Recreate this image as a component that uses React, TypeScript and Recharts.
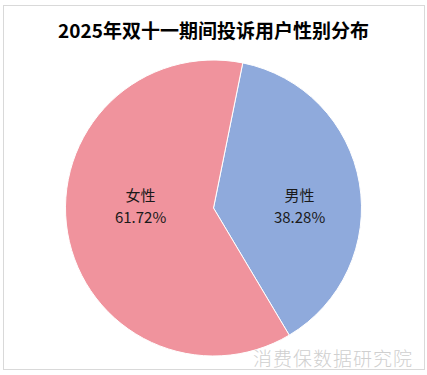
import { Cell, Pie, PieChart } from "recharts";

const genders = ["男性", "女性"];
const shares = [38.28, 61.72];
const colors = ["#8FAADC", "#F0939D"];

const data = genders.map((name, i) => ({ name, value: shares[i] }));

const RAD = Math.PI / 180;

function renderLabel(props: any) {
  const { cx, cy, midAngle, outerRadius, index, percent } = props;
  const r = outerRadius * (percent > 0.5 ? 0.5 : 0.59);
  const x = cx + r * Math.cos(-midAngle * RAD);
  const y = cy - 14;
  const style = { fontSize: 15, fontFamily: "'Noto Sans CJK SC', sans-serif" };
  return (
    <g>
      <text x={x} y={y} textAnchor="middle" dominantBaseline="central" fill="#1a1a1a" style={style}>
        {data[index].name}
      </text>
      <text x={x} y={y + 22} textAnchor="middle" dominantBaseline="central" fill="#1a1a1a" style={style}>
        {data[index].value.toFixed(2)}%
      </text>
    </g>
  );
}

export default function App() {
  return (
    <div
      style={{
        position: "absolute",
        left: 0,
        top: 0,
        width: 427,
        height: 375,
        background: "#fff",
      }}
    >
      <div
        style={{
          position: "absolute",
          left: 3,
          top: 5,
          width: 420,
          height: 363,
          border: "1px solid #D9D9D9",
        }}
      />
      <div
        style={{
          position: "absolute",
          left: 0,
          top: 16,
          width: 427,
          textAlign: "center",
          fontFamily: "'Noto Sans CJK SC', sans-serif",
          fontWeight: 700,
          fontSize: 19,
          lineHeight: "28px",
          color: "#000",
        }}
      >
        2025年双十一期间投诉用户性别分布
      </div>
      <PieChart
        width={427}
        height={375}
        margin={{ top: 0, right: 0, bottom: 0, left: 0 }}
        style={{ position: "absolute", left: 0, top: 0 }}
      >
        <Pie
          data={data}
          dataKey="value"
          nameKey="name"
          cx={213.5}
          cy={208}
          outerRadius={148}
          startAngle={78.6}
          endAngle={-281.4}
          stroke="#fff"
          strokeWidth={1}
          label={renderLabel}
          labelLine={false}
          isAnimationActive={false}
        >
          {data.map((d, i) => (
            <Cell key={d.name} fill={colors[i]} />
          ))}
        </Pie>
      </PieChart>
      <div
        style={{
          position: "absolute",
          left: 253,
          top: 345,
          fontFamily: "'Noto Sans CJK SC', sans-serif",
          fontWeight: 300,
          fontSize: 19,
          lineHeight: "26px",
          letterSpacing: 1,
          color: "#CFCFCF",
          whiteSpace: "nowrap",
        }}
      >
        消费保数据研究院
      </div>
    </div>
  );
}
